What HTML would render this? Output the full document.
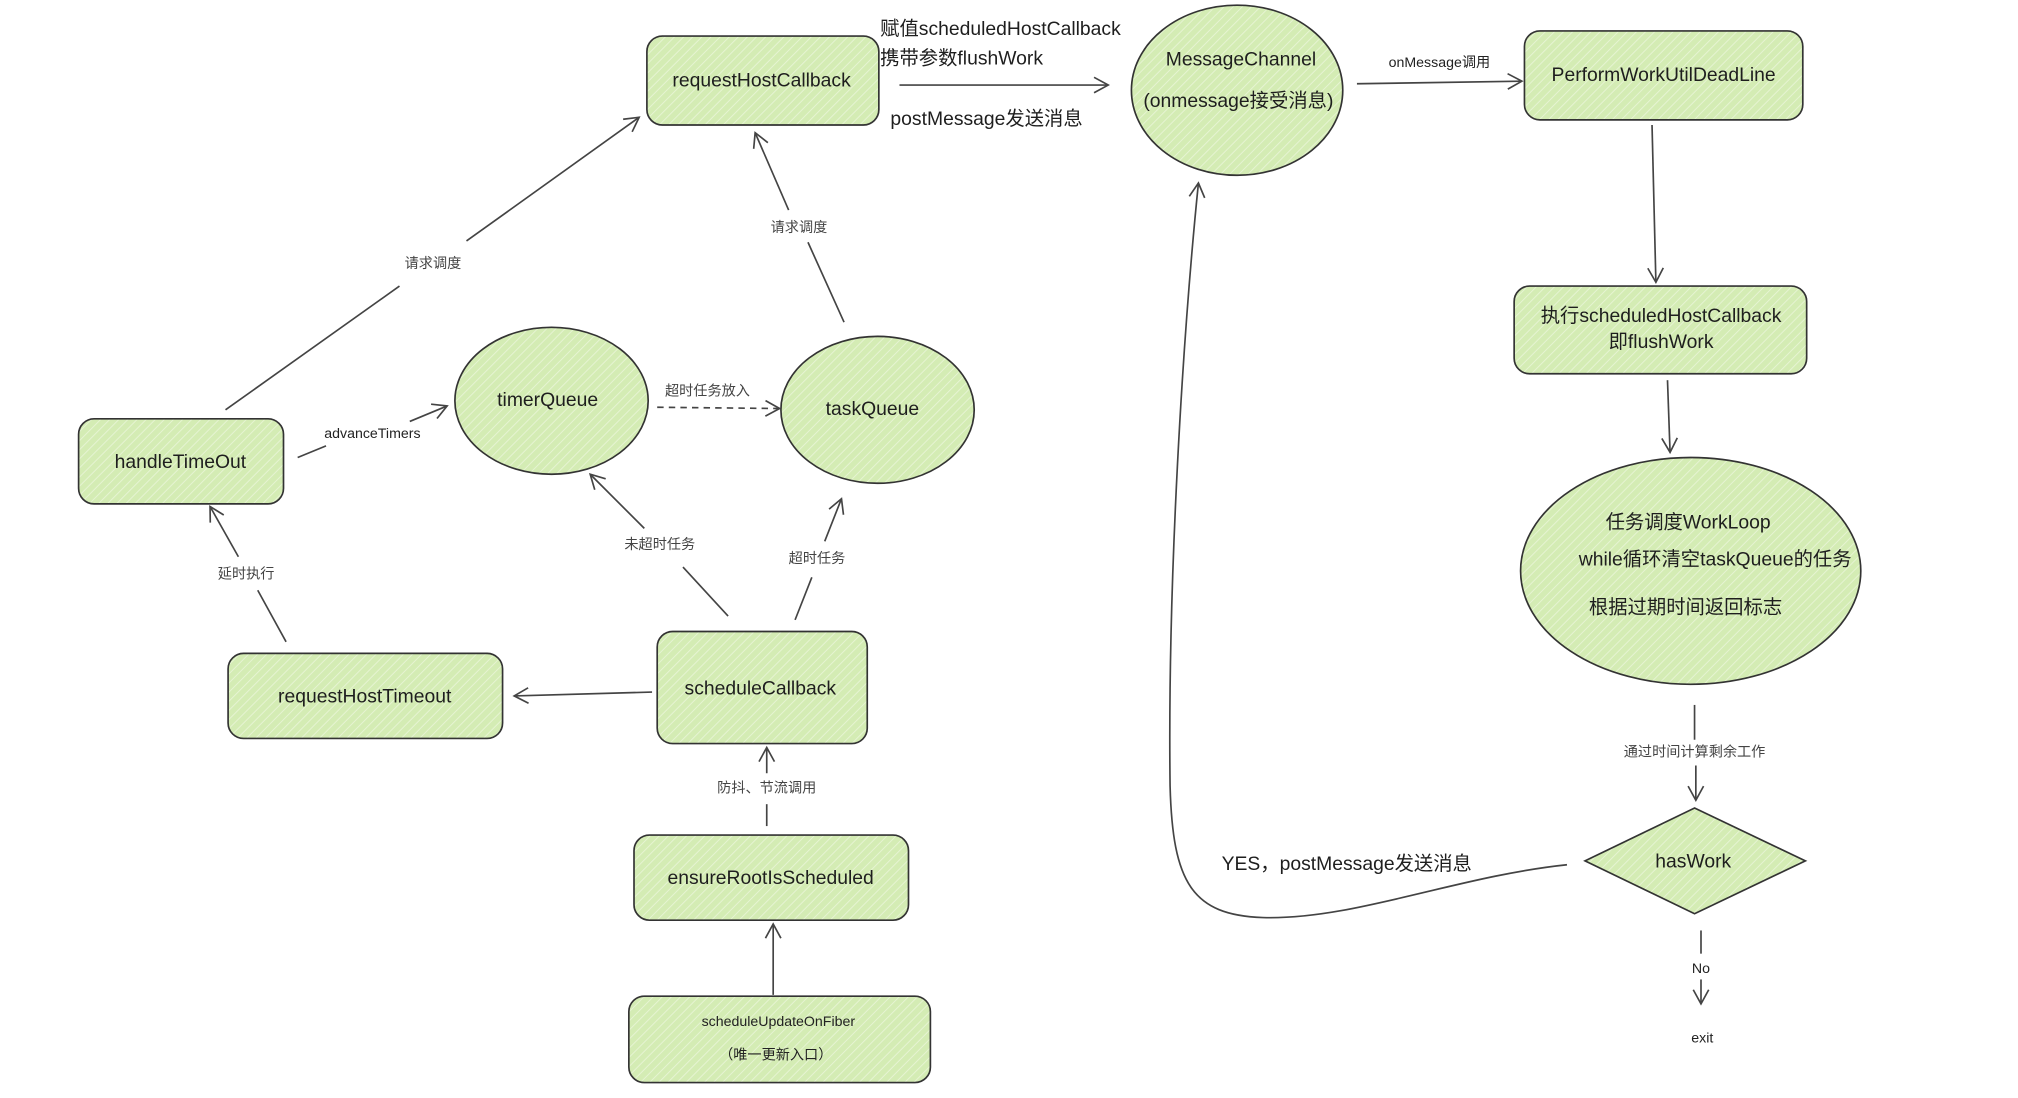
<!DOCTYPE html>
<html><head><meta charset="utf-8"><style>
html,body{margin:0;padding:0;background:#fff;}
svg{display:block;}
text{font-family:"Liberation Sans","Noto Sans CJK SC",sans-serif;fill:#1e1e1e;}
.n{stroke:#333;stroke-width:1.3;fill:url(#h);}
.l{stroke:#444;stroke-width:1.3;fill:none;}
.big{font-size:15px;text-anchor:middle;}
.sm{font-size:11px;text-anchor:middle;fill:#444;}
.mid{font-size:15px;}
</style></head><body>
<svg width="2018" height="1098" viewBox="0 0 1566 852" preserveAspectRatio="none" xmlns="http://www.w3.org/2000/svg">
<defs>
<pattern id="h" width="5" height="5" patternUnits="userSpaceOnUse" patternTransform="rotate(45)">
<rect width="5" height="5" fill="#d4ecb4"/>
<line x1="0" y1="0" x2="0" y2="5" stroke="#e6f4d3" stroke-width="1.5"/>
</pattern>
<marker id="a" markerWidth="14" markerHeight="14" refX="12" refY="7" orient="auto" markerUnits="userSpaceOnUse">
<path d="M1,1 L12,7 L1,13" fill="none" stroke="#444" stroke-width="1.3"/>
</marker>
</defs>
<rect width="1566" height="852" fill="#fff"/>

<rect class="n" x="502" y="28" width="180" height="69" rx="12"/>
<text class="big" x="591" y="67">requestHostCallback</text>

<ellipse class="n" cx="960" cy="70" rx="82" ry="66"/>
<text class="big" x="963" y="51">MessageChannel</text>
<text class="big" x="961" y="83">(onmessage接受消息)</text>

<rect class="n" x="1183" y="24" width="216" height="69" rx="12"/>
<text class="big" x="1291" y="63">PerformWorkUtilDeadLine</text>

<rect class="n" x="1175" y="222" width="227" height="68" rx="12"/>
<text class="big" x="1289" y="250">执行scheduledHostCallback</text>
<text class="big" x="1289" y="270">即flushWork</text>

<ellipse class="n" cx="1312" cy="443" rx="132" ry="88"/>
<text class="big" x="1310" y="410">任务调度WorkLoop</text>
<text class="big" x="1331" y="439">while循环清空taskQueue的任务</text>
<text class="big" x="1308" y="476">根据过期时间返回标志</text>

<path class="n" d="M1315,627 L1401,668 L1315,709 L1230,668 Z"/>
<text class="big" x="1314" y="673">hasWork</text>

<rect class="n" x="61" y="325" width="159" height="66" rx="12"/>
<text class="big" x="140" y="363">handleTimeOut</text>

<ellipse class="n" cx="428" cy="311" rx="75" ry="57"/>
<text class="big" x="425" y="315">timerQueue</text>
<ellipse class="n" cx="681" cy="318" rx="75" ry="57"/>
<text class="big" x="677" y="322">taskQueue</text>

<rect class="n" x="510" y="490" width="163" height="87" rx="12"/>
<text class="big" x="590" y="539">scheduleCallback</text>

<rect class="n" x="177" y="507" width="213" height="66" rx="12"/>
<text class="big" x="283" y="545">requestHostTimeout</text>

<rect class="n" x="492" y="648" width="213" height="66" rx="12"/>
<text class="big" x="598" y="686">ensureRootIsScheduled</text>

<rect class="n" x="488" y="773" width="234" height="67" rx="12"/>
<text class="sm" x="604" y="796" style="fill:#222">scheduleUpdateOnFiber</text>
<text class="sm" x="602" y="822" style="fill:#222">（唯一更新入口）</text>

<text class="mid" x="683" y="27">赋值scheduledHostCallback</text>
<text class="mid" x="683" y="50">携带参数flushWork</text>
<line class="l" x1="698" y1="66" x2="860" y2="66" marker-end="url(#a)"/>
<text class="mid" x="691" y="97">postMessage发送消息</text>

<line class="l" x1="1053" y1="65" x2="1181" y2="63" marker-end="url(#a)"/>
<text class="sm" x="1117" y="52" style="fill:#222">onMessage调用</text>

<line class="l" x1="1282" y1="97" x2="1285" y2="219" marker-end="url(#a)"/>
<line class="l" x1="1294" y1="295" x2="1296" y2="351" marker-end="url(#a)"/>

<line class="l" x1="1315" y1="547" x2="1315" y2="574"/>
<text class="sm" x="1315" y="587">通过时间计算剩余工作</text>
<line class="l" x1="1316" y1="594" x2="1316" y2="621" marker-end="url(#a)"/>

<line class="l" x1="1320" y1="722" x2="1320" y2="740"/>
<text class="sm" x="1320" y="755" style="fill:#222">No</text>
<line class="l" x1="1320" y1="760" x2="1320" y2="779" marker-end="url(#a)"/>
<text class="sm" x="1321" y="809" style="fill:#222">exit</text>

<path class="l" d="M1216,671 C1130,680 1050,714 980,712 C925,710 910,685 908,610 C906,450 918,260 930,142" marker-end="url(#a)"/>
<text class="mid" x="948" y="675">YES，postMessage发送消息</text>

<line class="l" x1="175" y1="318" x2="310" y2="222"/>
<line class="l" x1="362" y1="187" x2="496" y2="91" marker-end="url(#a)"/>
<text class="sm" x="336" y="208">请求调度</text>

<line class="l" x1="231" y1="355" x2="253" y2="346"/>
<line class="l" x1="318" y1="327" x2="347" y2="315" marker-end="url(#a)"/>
<text class="sm" x="289" y="340" style="fill:#222">advanceTimers</text>

<line class="l" x1="510" y1="316" x2="605" y2="317" stroke-dasharray="5,4" marker-end="url(#a)"/>
<text class="sm" x="549" y="307">超时任务放入</text>

<line class="l" x1="655" y1="250" x2="627" y2="188"/>
<line class="l" x1="612" y1="163" x2="586" y2="103" marker-end="url(#a)"/>
<text class="sm" x="620" y="180">请求调度</text>

<line class="l" x1="565" y1="478" x2="530" y2="440"/>
<line class="l" x1="500" y1="410" x2="458" y2="368" marker-end="url(#a)"/>
<text class="sm" x="512" y="426">未超时任务</text>

<line class="l" x1="617" y1="481" x2="630" y2="448"/>
<line class="l" x1="640" y1="420" x2="653" y2="387" marker-end="url(#a)"/>
<text class="sm" x="634" y="437">超时任务</text>

<line class="l" x1="506" y1="537" x2="399" y2="540" marker-end="url(#a)"/>

<line class="l" x1="222" y1="498" x2="200" y2="458"/>
<line class="l" x1="185" y1="432" x2="163" y2="393" marker-end="url(#a)"/>
<text class="sm" x="191" y="449">延时执行</text>

<line class="l" x1="595" y1="641" x2="595" y2="624"/>
<text class="sm" x="595" y="615">防抖、节流调用</text>
<line class="l" x1="595" y1="600" x2="595" y2="580" marker-end="url(#a)"/>

<line class="l" x1="600" y1="772" x2="600" y2="717" marker-end="url(#a)"/>
</svg>
</body></html>
